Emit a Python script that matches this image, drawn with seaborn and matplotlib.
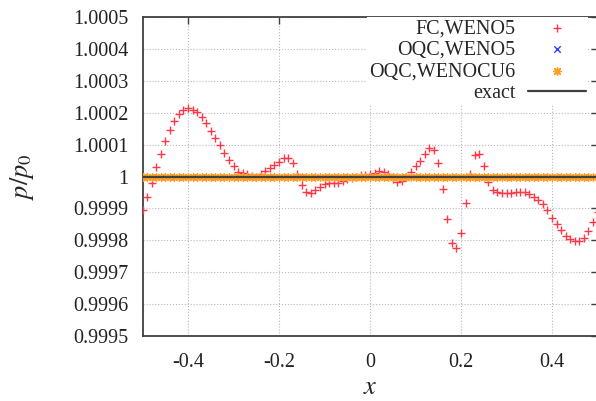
import numpy as np
import matplotlib
matplotlib.use('Agg')
import matplotlib.pyplot as plt
import seaborn as sns

# cell centres
x = np.linspace(-0.5, 0.5, 101)

# FC,WENO5 deviation from 1, in units of 1e-5
fc_dev = [
    -10.5, -6.3, -1.9, 2.9, 7.1, 11.1, 14.7, 17.5, 19.6, 20.9,
    21.4, 21.0, 20.3, 18.7, 16.7, 14.4, 12.0, 9.8, 7.3, 5.2,
    3.4, 1.4, 1.1, 0.8, 0.1, -0.3, 0.8, 1.6, 2.6, 3.5,
    4.5, 5.7, 5.8, 4.1, 0.8, -2.8, -4.8, -5.1, -4.2, -3.2,
    -2.4, -2.1, -2.1, -1.9, -1.4, -0.9, -0.5, 0.0, 0.4, 0.6,
    0.9, 1.0, 1.7, 1.5, 0.8, -0.9, -1.7, -1.4, -0.1, 1.5,
    3.3, 5.0, 7.1, 8.8, 8.3, 4.2, -3.9, -13.4, -20.7, -22.5,
    -17.6, -8.4, 0.9, 6.7, 7.0, 3.3, -1.6, -4.2, -4.8, -5.3,
    -5.3, -5.1, -4.9, -4.8, -4.9, -5.5, -6.3, -7.4, -8.7, -10.5,
    -12.9, -14.9, -16.8, -18.7, -19.7, -20.3, -20.3, -19.3, -17.0, -14.2,
    -11.0,
]
fc_weno5 = 1.0 + np.array(fc_dev) * 1e-5
oqc_weno5 = [1.0] * len(x)
oqc_wenocu6 = [1.0] * len(x)
exact = [1.0] * len(x)

yticks = [0.9995, 0.9996, 0.9997, 0.9998, 0.9999, 1.0,
          1.0001, 1.0002, 1.0003, 1.0004, 1.0005]
ylabels = ['0.9995', '0.9996', '0.9997', '0.9998', '0.9999', '1',
           '1.0001', '1.0002', '1.0003', '1.0004', '1.0005']
xticks = [-0.4, -0.2, 0.0, 0.2, 0.4]
xlabels = ['-0.4', '-0.2', '0', '0.2', '0.4']

sns.set_style('white')
plt.rcParams['font.family'] = ['Liberation Serif', 'DejaVu Serif']
plt.rcParams['mathtext.fontset'] = 'stix'

fig = plt.figure(figsize=(5.96, 4.01), dpi=100)
ax = fig.add_axes([142.5 / 596, 65 / 401, 455 / 596, 319 / 401])

sns.scatterplot(x=x, y=fc_weno5, marker='+', s=30, color='#ff3848',
                linewidth=1.0, label='FC,WENO5', ax=ax, zorder=3)
sns.scatterplot(x=x, y=oqc_weno5, marker='x', s=22, color='#3040ff',
                linewidth=1.0, label='OQC,WENO5', ax=ax, zorder=4)
sns.scatterplot(x=x, y=oqc_wenocu6, marker=(8, 2, 0), s=30, color='#ffa020',
                linewidth=1.0, label='OQC,WENOCU6', ax=ax, zorder=5)
sns.lineplot(x=x, y=exact, color='#404040', linewidth=1.6, label='exact',
             ax=ax, zorder=6)

ax.set_xlim(-0.5, 0.5)
ax.set_ylim(0.9995, 1.0005)
ax.set_xticks(xticks)
ax.set_xticklabels(xlabels)
ax.set_yticks(yticks)
ax.set_yticklabels(ylabels)
ax.tick_params(direction='in', top=True, right=True, length=5, width=1,
               color='#404040', labelsize=14.5, labelcolor='#222222')
ax.tick_params(axis='y', pad=10)
ax.tick_params(axis='x', pad=12)
ax.grid(True, linestyle=':', color='#b8b8b8', linewidth=0.8)
for sp in ax.spines.values():
    sp.set_color('#404040')
    sp.set_linewidth(1.3)

ax.set_xlabel(r'$x$', fontsize=19)
ax.set_ylabel(r'$p/p_0$', fontsize=19)
ax.xaxis.set_label_coords(0.5, -0.13)
ax.yaxis.set_label_coords(-0.235, 0.5)

leg = ax.legend(loc='upper right', bbox_to_anchor=(588 / 596, 384 / 401),
                bbox_transform=fig.transFigure, markerfirst=False,
                fontsize=14.5, handlelength=2.9, handletextpad=0.6,
                labelspacing=0.12, borderpad=0.1, borderaxespad=0,
                frameon=True, fancybox=False, framealpha=1,
                scatterpoints=1)
leg.get_frame().set_edgecolor('none')
leg.get_frame().set_facecolor('white')
leg.set_zorder(10)

plt.savefig('out.png', dpi=100)
plt.close()
